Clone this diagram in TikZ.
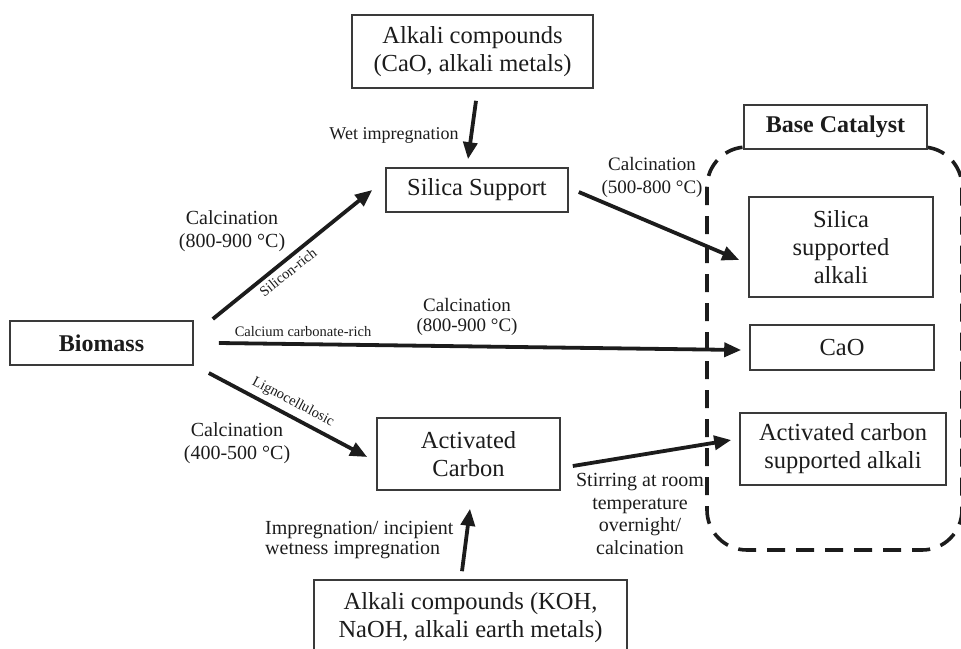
\documentclass[tikz,border=0pt]{standalone}
\usepackage{fontspec}
\setmainfont{Liberation Serif}
\usetikzlibrary{arrows.meta}
\definecolor{ink}{HTML}{1C1C1C}
\definecolor{edge}{HTML}{3A3A3A}
\tikzset{
  box/.style={draw=edge, line width=1.6pt, fill=white, inner sep=0pt, align=center, text=ink,
              font=\fontsize{24.5}{28}\selectfont},
  boldbox/.style={box, font=\fontsize{24}{28}\selectfont\bfseries},
  lab/.style={inner sep=0pt, align=center, text=ink, font=\fontsize{20}{23}\selectfont},
  smalllab/.style={inner sep=0pt, text=ink, font=\fontsize{14.5}{16}\selectfont},
  arr/.style={draw=ink, line width=3.8pt, -{Triangle[length=17pt,width=14pt]}},
  catframe/.style={draw=ink, line width=3.6pt, dash pattern=on 18pt off 11pt, rounded corners=40pt}
}
\begin{document}
\begin{tikzpicture}[x=1pt,y=-1pt]
\useasboundingbox (0,0) rectangle (961,648);
% dashed frame of the base catalysts
\draw[catframe] (707,147) rectangle (962,550);
% boxes
\node[box, minimum width=241pt, minimum height=73pt] (top) at (472.5,51.5) {Alkali compounds\\(CaO, alkali metals)};
\node[box, minimum width=182pt, minimum height=44pt] (silica) at (477,190) {Silica Support};
\node[boldbox, minimum width=183pt, minimum height=44pt] (bio) at (101.5,343) {Biomass};
\node[box, minimum width=183pt, minimum height=72pt] (actc) at (468.5,454) {Activated\\Carbon};
\node[box, minimum width=313pt, minimum height=76pt] (bot) at (470.5,618) {Alkali compounds (KOH,\\NaOH, alkali earth metals)};
\node[boldbox, minimum width=183pt, minimum height=44pt] (base) at (835.5,127) {Base Catalyst};
\node[box, minimum width=184pt, minimum height=100pt] (ssa) at (841,247) {Silica\\supported\\alkali};
\node[box, minimum width=184pt, minimum height=45pt] (cao) at (842,347.5) {CaO};
\node[box, minimum width=206pt, minimum height=72pt] (acsa) at (843,449) {Activated carbon\\supported alkali};
% arrows
\draw[arr] ([xshift=3.5pt,yshift=-12pt]top.south) -- ([xshift=-9pt,yshift=8pt]silica.north);
\draw[arr] ([xshift=19pt,yshift=24pt]bio.east) -- ([xshift=-13pt]silica.west);
\draw[arr] ([xshift=25pt]bio.east) -- ([xshift=-8pt,yshift=-2.5pt]cao.west);
\draw[arr] ([xshift=15pt,yshift=-30pt]bio.east) -- ([xshift=-9pt,yshift=-3pt]actc.west);
\draw[arr] ([xshift=10pt,yshift=-2pt]silica.east) -- ([xshift=-9pt,yshift=-13pt]ssa.west);
\draw[arr] ([xshift=12pt,yshift=-12pt]actc.east) -- ([xshift=-8pt,yshift=9pt]acsa.west);
\draw[arr] ([xshift=-8.5pt,yshift=8pt]bot.north) -- ([xshift=1.5pt,yshift=-18pt]actc.south);
% labels
\node[lab, font=\fontsize{18}{21}\selectfont] (lwet) at (394,135) {Wet impregnation};
\node[lab] (lc1) at (232,231) {Calcination\\(800-900 °C)};
\node[smalllab, rotate=38.7] (lsi) at (288,272) {Silicon-rich};
\node[smalllab] (lca) at (303,332) {Calcium carbonate-rich};
\node[lab, font=\fontsize{19}{20.5}\selectfont] (lc2) at (467,317) {Calcination\\(800-900 °C)};
\node[smalllab, rotate=-27.7] (lli) at (293,402) {Lignocellulosic};
\node[lab] (lc3) at (237,443) {Calcination\\(400-500 °C)};
\node[lab, font=\fontsize{19}{23}\selectfont] (lc4) at (652,177) {Calcination\\(500-800 °C)};
\node[lab, font=\fontsize{20}{22.7}\selectfont] (lstir) at (640,514) {Stirring at room\\temperature\\overnight/\\calcination};
\node[lab, align=left, anchor=west, font=\fontsize{20}{20.5}\selectfont] (limp) at (265,540) {Impregnation/ incipient\\wetness impregnation};
\end{tikzpicture}
\end{document}
